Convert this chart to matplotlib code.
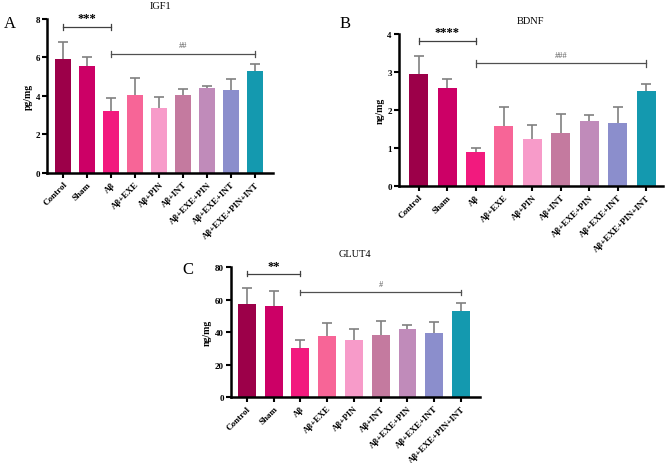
import matplotlib
matplotlib.use("Agg")
import matplotlib.pyplot as plt
import numpy as np

plt.rcParams['font.family'] = ['Liberation Serif', 'DejaVu Serif']

categories = ["Control", "Sham", "Aβ", "Aβ+EXE", "Aβ+PIN", "Aβ+INT",
              "Aβ+EXE+PIN", "Aβ+EXE+INT", "Aβ+EXE+PIN+INT"]
colors = ["#9C0049", "#CC0066", "#F21A7E", "#F76597", "#F79BC9",
          "#C47A9F", "#C08BBA", "#8B8ECC", "#1499AF"]

igf1_mean = [5.9, 5.58, 3.2, 4.05, 3.38, 4.05, 4.42, 4.3, 5.28]
igf1_err = [0.9, 0.42, 0.7, 0.9, 0.57, 0.3, 0.12, 0.58, 0.4]

bdnf_mean = [2.95, 2.57, 0.9, 1.58, 1.24, 1.38, 1.72, 1.66, 2.5]
bdnf_err = [0.47, 0.24, 0.1, 0.5, 0.36, 0.5, 0.15, 0.42, 0.17]

glut4_mean = [57.5, 56.0, 30.0, 37.3, 35.3, 38.0, 42.0, 39.3, 52.7]
glut4_err = [9.7, 9.2, 5.3, 8.2, 6.5, 8.8, 2.2, 6.7, 4.9]

fig = plt.figure(figsize=(6.69, 4.64), dpi=100)

panels = [
    dict(rect=[0.0703, 0.625, 0.338, 0.332], mean=igf1_mean, err=igf1_err,
         ymax=8, yticks=[0, 2, 4, 6, 8], ylabel="pg/mg", title="IGF1",
         letter="A", letter_pos=(0.006, 0.94),
         sig1=("***", 7.6), sig2=("##", 6.2), xlim=(-0.67, 8.75)),
    dict(rect=[0.596, 0.597, 0.395, 0.328], mean=bdnf_mean, err=bdnf_err,
         ymax=4, yticks=[0, 1, 2, 3, 4], ylabel="ng/mg", title="BDNF",
         letter="B", letter_pos=(0.507, 0.94),
         sig1=("****", 3.82), sig2=("###", 3.22), xlim=(-0.7, 8.59)),
    dict(rect=[0.345, 0.142, 0.3725, 0.2804], mean=glut4_mean, err=glut4_err,
         ymax=80, yticks=[0, 20, 40, 60, 80], ylabel="ng/mg", title="GLUT4",
         letter="C", letter_pos=(0.272, 0.41),
         sig1=("**", 76), sig2=("#", 64.5), xlim=(-0.6, 8.71)),
]

x = np.arange(len(categories))
for p in panels:
    ax = fig.add_axes(p["rect"])
    mean = np.array(p["mean"])
    top = mean + np.array(p["err"])
    ax.vlines(x, mean, top, color="#808080", lw=1.2, zorder=1)
    ax.plot(x, top, linestyle='none', marker='_', markersize=7, markeredgewidth=1.2,
            color="#808080", zorder=1)
    ax.bar(x, mean, width=0.67, color=colors, zorder=2)
    ax.set_xlim(*p["xlim"])
    ax.set_ylim(0, p["ymax"])
    ax.set_yticks(p["yticks"])
    ax.set_yticklabels([str(t) for t in p["yticks"]], fontsize=6.5, fontweight='bold')
    ax.set_xticks(x)
    ax.set_xticklabels(categories, rotation=45, ha='right', rotation_mode='anchor',
                       fontsize=6.5, fontweight='bold')
    ax.set_ylabel(p["ylabel"], fontsize=7, fontweight='bold', labelpad=2)
    ax.spines['top'].set_visible(False)
    ax.spines['right'].set_visible(False)
    ax.spines['left'].set_linewidth(1.8)
    ax.spines['bottom'].set_linewidth(1.8)
    ax.tick_params(axis='both', width=1.5, length=3.5, pad=1.5)
    ax.set_title(p["title"], fontsize=7.5, pad=8)
    # significance brackets
    t1, y1 = p["sig1"]
    t2, y2 = p["sig2"]
    h = p["ymax"] * 0.02
    ax.plot([0, 2], [y1, y1], color="#404040", lw=0.9, clip_on=False)
    ax.plot([0, 0], [y1 - h, y1 + h], color="#404040", lw=0.9, clip_on=False)
    ax.plot([2, 2], [y1 - h, y1 + h], color="#404040", lw=0.9, clip_on=False)
    ax.text(1, y1 + p["ymax"] * 0.015, t1, ha='center', va='bottom', fontsize=9,
            fontweight='bold', clip_on=False)
    ax.plot([2, 8], [y2, y2], color="#505050", lw=0.9, clip_on=False)
    ax.plot([2, 2], [y2 - h, y2 + h], color="#505050", lw=0.9, clip_on=False)
    ax.plot([8, 8], [y2 - h, y2 + h], color="#505050", lw=0.9, clip_on=False)
    ax.text(5, y2 + p["ymax"] * 0.03, t2, ha='center', va='bottom', fontsize=6,
            color="#606060", clip_on=False)
    fig.text(p["letter_pos"][0], p["letter_pos"][1], p["letter"], fontsize=12)

fig.savefig("out.png", dpi=100)
